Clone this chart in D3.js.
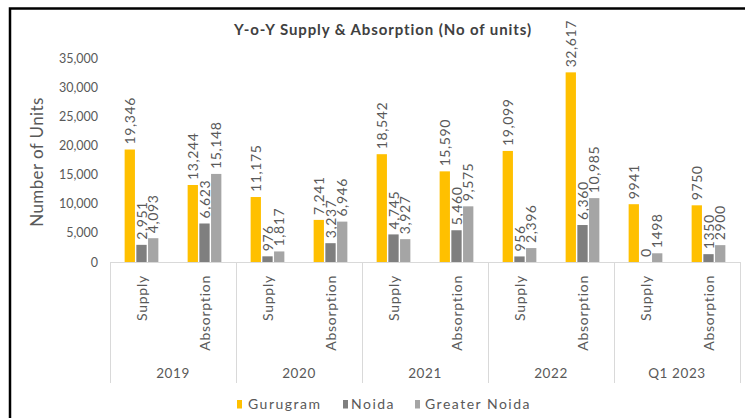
<!DOCTYPE html>
<html><head><meta charset="utf-8">
<script src="https://cdn.jsdelivr.net/npm/d3@7"></script>
<style>body{margin:0;background:#fff}svg{display:block}text{font-family:Lato,"Open Sans",sans-serif}</style>
</head><body>
<script>
const years = ["2019","2020","2021","2022","Q1 2023"];
const types = ["Supply","Absorption"];
const seriesNames = ["Gurugram","Noida","Greater Noida"];
const colors = ["#FFC000","#7F7F7F","#A5A5A5"];
const gurugram = [19346,13244,11175,7241,18542,15590,19099,32617,9941,9750];
const noida = [2951,6623,976,3237,4745,5460,956,6360,0,1350];
const greaterNoida = [4093,15148,1817,6946,3927,9575,2396,10985,1498,2900];
const gurugramLabels = ["19,346","13,244","11,175","7,241","18,542","15,590","19,099","32,617","9941","9750"];
const noidaLabels = ["2,951","6,623","976","3,237","4,745","5,460","956","6,360","0","1350"];
const greaterNoidaLabels = ["4,093","15,148","1,817","6,946","3,927","9,575","2,396","10,985","1498","2900"];
const yTicks = [0,5000,10000,15000,20000,25000,30000,35000];

const W=745,H=418;
const svg=d3.select("body").append("svg").attr("width",W).attr("height",H);
svg.append("rect").attr("width",W).attr("height",H).attr("fill","#fff");
// frame
svg.append("path").attr("d","M10,418 V8.5 H745").attr("fill","none").attr("stroke","#000").attr("stroke-width",2.5);

const cats=[];years.forEach(y=>types.forEach(t=>cats.push(y+"|"+t)));
const x=d3.scaleBand().domain(cats).range([110,740]);
const inner=d3.scaleBand().domain(seriesNames).range([0,x.bandwidth()]).paddingInner(0.12).paddingOuter(1.25);
const y=d3.scaleLinear().domain([0,35000]).range([262,58.5]);

const values=[gurugram,noida,greaterNoida];
const labels=[gurugramLabels,noidaLabels,greaterNoidaLabels];

// title
svg.append("text").attr("x",383).attr("y",35).attr("text-anchor","middle").attr("font-size",15).attr("font-weight","bold").attr("letter-spacing",0.9).attr("fill","#404040").text("Y-o-Y Supply & Absorption (No of units)");

// y axis
const ya=svg.append("g").attr("transform","translate(98,0)").call(d3.axisLeft(y).tickValues(yTicks).tickFormat(d3.format(",")).tickSize(0).tickPadding(0));
ya.select(".domain").remove();
ya.selectAll("text").attr("font-size",12.5).attr("fill","#595959").attr("font-family","Lato");
svg.append("text").attr("transform","translate(43,162) rotate(-90)").attr("text-anchor","middle").attr("font-size",17).attr("letter-spacing",0.4).attr("fill","#595959").text("Number of Units");

// bars
seriesNames.forEach((s,si)=>{
  const g=svg.append("g");
  g.selectAll("rect").data(values[si]).join("rect")
    .attr("x",(d,i)=>x(cats[i])+inner(s)).attr("width",inner.bandwidth())
    .attr("y",d=>y(d)).attr("height",d=>y(0)-y(d)).attr("fill",colors[si]);
  g.selectAll("text").data(values[si]).join("text")
    .attr("transform",(d,i)=>`translate(${x(cats[i])+inner(s)+inner.bandwidth()/2+5},${y(d)-5}) rotate(-90)`)
    .attr("font-size",14).attr("letter-spacing",0.6).attr("fill","#595959").text((d,i)=>labels[si][i]);
});

// category axis
svg.append("line").attr("x1",110).attr("x2",740).attr("y1",262.5).attr("y2",262.5).attr("stroke","#D9D9D9");
years.forEach((yr,i)=>{
  svg.append("line").attr("x1",110+126*i+0.5).attr("x2",110+126*i+0.5).attr("y1",262).attr("y2",383).attr("stroke","#D9D9D9");
});
svg.append("line").attr("x1",740.5).attr("x2",740.5).attr("y1",262).attr("y2",383).attr("stroke","#D9D9D9");
cats.forEach(c=>{
  const t=c.split("|")[1];
  svg.append("text").attr("transform",`translate(${x(c)+x.bandwidth()/2+5},275) rotate(-90)`).attr("text-anchor","end").attr("font-size",14).attr("letter-spacing",0.75).attr("fill","#595959").text(t);
});
years.forEach((yr)=>{
  const cx=x(yr+"|Supply")+x.bandwidth();
  svg.append("text").attr("x",cx).attr("y",378).attr("text-anchor","middle").attr("font-size",13.5).attr("letter-spacing",0.6).attr("fill","#595959").text(yr);
});

// legend
const lsq=[237,343,415], ltx=[248,351,425];
seriesNames.forEach((s,i)=>{
  svg.append("rect").attr("x",lsq[i]).attr("y",400).attr("width",5).attr("height",8.5).attr("fill",colors[i]);
  svg.append("text").attr("x",ltx[i]).attr("y",409).attr("font-size",14).attr("letter-spacing",1.5).attr("fill","#595959").text(s);
});
</script>
</body></html>
